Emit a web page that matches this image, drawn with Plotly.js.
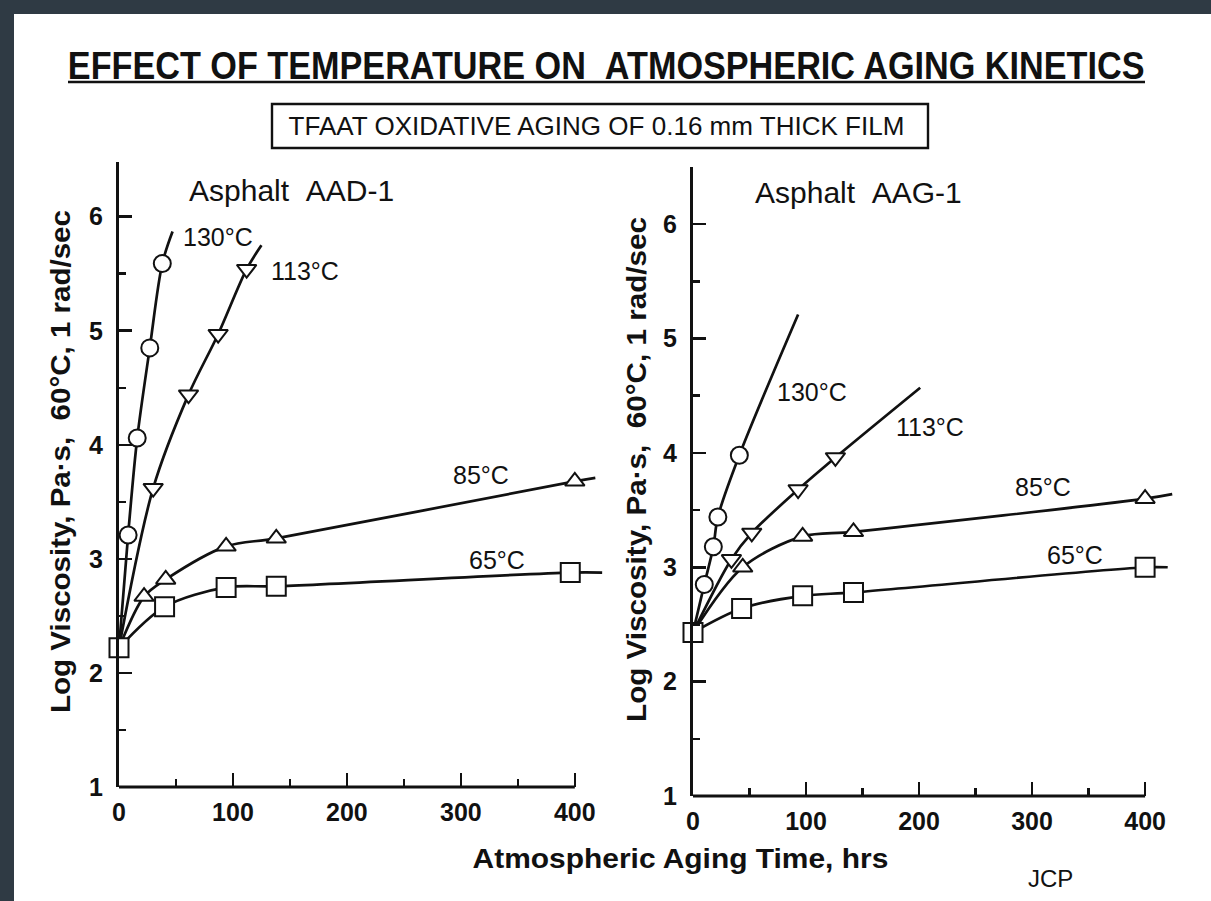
<!DOCTYPE html>
<html>
<head>
<meta charset="utf-8">
<script src="https://cdn.plot.ly/plotly-3.0.1.min.js"></script>
<style>
  html, body { margin: 0; padding: 0; background: #2f3a44; width: 1211px; height: 901px; overflow: hidden; }
  #chart { position: absolute; left: 14px; top: 14px; width: 1197px; height: 887px; background: #ffffff; }
</style>
</head>
<body>
<div id="chart"></div>
<script>
// ---- Asphalt AAD-1 : log viscosity (Pa·s, 60°C, 1 rad/s) vs aging time (hrs)
const aad_t130 = [8, 16, 27, 38];
const aad_v130 = [3.21, 4.06, 4.85, 5.59];
const aad_t113 = [30, 61, 87, 112];
const aad_v113 = [3.62, 4.44, 4.97, 5.54];
const aad_t85  = [22, 41, 94, 138, 400];
const aad_v85  = [2.67, 2.82, 3.11, 3.18, 3.68];
const aad_t65  = [0, 40, 94, 138, 396];
const aad_v65  = [2.22, 2.58, 2.75, 2.76, 2.88];
// fitted-curve end points for AAD-1
const aad_end130 = [47, 5.87];
const aad_end113 = [125, 5.75];
const aad_end85  = [418, 3.71];
const aad_end65  = [424, 2.88];

// ---- Asphalt AAG-1
const aag_t130 = [10, 18, 22, 41];
const aag_v130 = [2.85, 3.18, 3.44, 3.98];
const aag_t113 = [34, 52, 93, 126];
const aag_v113 = [3.07, 3.30, 3.68, 3.96];
const aag_t85  = [44, 97, 142, 400];
const aag_v85  = [3.00, 3.27, 3.31, 3.60];
const aag_t65  = [0, 43, 97, 142, 400];
const aag_v65  = [2.43, 2.64, 2.75, 2.78, 3.00];
const aag_end130 = [93, 5.21];
const aag_end113 = [201, 4.57];
const aag_end85  = [424, 3.64];
const aag_end65  = [420, 3.00];

const temps = ['130°C', '113°C', '85°C', '65°C'];
const xTicks = [0, 100, 200, 300, 400];
const xMinor = [50, 150, 250, 350];
const yTicks = [1, 2, 3, 4, 5, 6];
const yMinor = [1.5, 2.5, 3.5, 4.5, 5.5];

// ---- figure geometry
const W = 1197, H = 887, OX = 14, OY = 14;
const fx = px => (px - OX) / W;
const fy = py => (H - (py - OY)) / H;

const SANS = 'Liberation Sans, Arial, Helvetica, sans-serif';
const INK = '#111111';

const panels = [
  { xa: 'x', ya: 'y',
    t: [aad_t130, aad_t113, aad_t85, aad_t65], v: [aad_v130, aad_v113, aad_v85, aad_v65],
    start: aad_v65[0], ends: [aad_end130, aad_end113, aad_end85, aad_end65] },
  { xa: 'x2', ya: 'y2',
    t: [aag_t130, aag_t113, aag_t85, aag_t65], v: [aag_v130, aag_v113, aag_v85, aag_v65],
    start: aag_v65[0], ends: [aag_end130, aag_end113, aag_end85, aag_end65] }
];
const symbols = ['circle', 'triangle-down', 'triangle-up', 'square'];
const msize = [17, 17, 17, 19];

const traces = [];
panels.forEach(p => {
  // smooth curves from the unaged point through the data to the curve end
  p.t.forEach((tt, i) => {
    const cx = [0], cy = [p.start];
    tt.forEach((x, k) => { if (x > 0) { cx.push(x); cy.push(p.v[i][k]); } });
    cx.push(p.ends[i][0]); cy.push(p.ends[i][1]);
    traces.push({ x: cx, y: cy, xaxis: p.xa, yaxis: p.ya, mode: 'lines',
      line: { color: INK, width: 2.7, shape: 'spline', smoothing: 0.9 },
      hoverinfo: 'skip', showlegend: false });
  });
  p.t.forEach((tt, i) => {
    traces.push({ x: tt, y: p.v[i], xaxis: p.xa, yaxis: p.ya, mode: 'markers', name: temps[i],
      cliponaxis: false,
      marker: { symbol: symbols[i], size: msize[i], color: '#ffffff',
                line: { color: INK, width: 2 } },
      showlegend: false });
  });
});

function xAxis(dom) {
  return { domain: dom, range: [0, 430], tickvals: xTicks, ticktext: xTicks.map(String),
    ticks: 'inside', ticklen: 14, tickwidth: 2.6, tickcolor: INK,
    minor: { tickvals: xMinor, ticks: 'inside', ticklen: 8, tickwidth: 2.6, tickcolor: INK },
    showline: false, showgrid: false, zeroline: false, ticklabelstandoff: 8,
    tickfont: { family: SANS, size: 25, color: INK, weight: 'bold' }, fixedrange: true };
}
function yAxis(dom, top) {
  return { domain: dom, range: [1, top], tickvals: yTicks, ticktext: yTicks.map(String),
    ticks: 'inside', ticklen: 13, tickwidth: 2.6, tickcolor: INK,
    minor: { tickvals: yMinor, ticks: 'inside', ticklen: 7, tickwidth: 2.6, tickcolor: INK },
    showline: true, linewidth: 3, linecolor: INK, showgrid: false, zeroline: false,
    ticklabelstandoff: 8,
    tickfont: { family: SANS, size: 25, color: INK, weight: 'bold' }, fixedrange: true };
}

const xd1 = [fx(119), fx(609)], yd1 = [fy(787), fy(162)];
const xd2 = [fx(693), fx(1179)], yd2 = [fy(796), fy(167)];
const xEnd = (d) => d[0] + (400 / 430) * (d[1] - d[0]);

const yTitle = 'Log Viscosity, Pa·s,\u00a0\u00a060°C, 1 rad/sec';

// fitWidth: horizontal length (px) the condensed lettering occupies
const annotations = [
  { text: 'EFFECT OF TEMPERATURE ON\u00a0\u00a0ATMOSPHERIC AGING KINETICS', x: fx(606), y: fy(66),
    font: { family: SANS, size: 38, color: INK, weight: 'bold' }, fitWidth: 1077 },
  { text: 'TFAAT OXIDATIVE AGING OF 0.16 mm THICK FILM', x: fx(596), y: fy(126),
    font: { family: SANS, size: 26, color: INK }, fitWidth: 616 },
  { text: 'Asphalt\u00a0\u00a0AAD-1', x: fx(291), y: fy(190), font: { family: SANS, size: 30, color: INK } },
  { text: 'Asphalt\u00a0\u00a0AAG-1', x: fx(858), y: fy(192), font: { family: SANS, size: 30, color: INK } },
  { text: yTitle, x: fx(60), y: fy(462), textangle: -90,
    font: { family: SANS, size: 28, color: INK, weight: 'bold' }, fitWidth: 503 },
  { text: yTitle, x: fx(636), y: fy(470), textangle: -90,
    font: { family: SANS, size: 28, color: INK, weight: 'bold' }, fitWidth: 505 },
  { text: 'Atmospheric Aging Time, hrs', x: fx(680), y: fy(858),
    font: { family: SANS, size: 28, color: INK, weight: 'bold' }, fitWidth: 416 },
  { text: 'JCP', x: fx(1050), y: fy(878), font: { family: SANS, size: 24, color: INK } },
  // curve labels (data coordinates)
  { text: temps[0], xref: 'x', yref: 'y', x: 87, y: 5.82 },
  { text: temps[1], xref: 'x', yref: 'y', x: 163, y: 5.52 },
  { text: temps[2], xref: 'x', yref: 'y', x: 318, y: 3.74 },
  { text: temps[3], xref: 'x', yref: 'y', x: 332, y: 2.99 },
  { text: temps[0], xref: 'x2', yref: 'y2', x: 105, y: 4.53 },
  { text: temps[1], xref: 'x2', yref: 'y2', x: 210, y: 4.23 },
  { text: temps[2], xref: 'x2', yref: 'y2', x: 310, y: 3.70 },
  { text: temps[3], xref: 'x2', yref: 'y2', x: 338, y: 3.11 }
].map(a => Object.assign({ xref: 'paper', yref: 'paper', showarrow: false,
  xanchor: 'center', yanchor: 'middle',
  font: { family: SANS, size: 25, color: INK } }, a));

const shapes = [
  // title underline
  { type: 'line', xref: 'paper', yref: 'paper', x0: fx(68), x1: fx(1145), y0: fy(82), y1: fy(82),
    line: { color: INK, width: 2.6 } },
  // subtitle frame
  { type: 'rect', xref: 'paper', yref: 'paper', x0: fx(272), x1: fx(928), y0: fy(104), y1: fy(148),
    line: { color: INK, width: 2.4 } },
  // time axes (end at 400 hrs)
  { type: 'line', xref: 'paper', yref: 'paper', x0: xd1[0], x1: xEnd(xd1), y0: yd1[0], y1: yd1[0],
    line: { color: INK, width: 3 } },
  { type: 'line', xref: 'paper', yref: 'paper', x0: xd2[0], x1: xEnd(xd2), y0: yd2[0], y1: yd2[0],
    line: { color: INK, width: 3 } }
];

const layout = {
  width: W, height: H, margin: { l: 0, r: 0, t: 0, b: 0 },
  paper_bgcolor: '#ffffff', plot_bgcolor: 'rgba(0,0,0,0)',
  showlegend: false,
  xaxis: Object.assign(xAxis(xd1), { anchor: 'y' }),
  yaxis: Object.assign(yAxis(yd1, 6.48), { anchor: 'x' }),
  xaxis2: Object.assign(xAxis(xd2), { anchor: 'y2' }),
  yaxis2: Object.assign(yAxis(yd2, 6.5), { anchor: 'x2' }),
  annotations: annotations.map(a => { const c = Object.assign({}, a); delete c.fitWidth; return c; }),
  shapes: shapes
};

Plotly.newPlot('chart', traces, layout, { displayModeBar: false, staticPlot: true }).then(gd => {
  // condensed lettering: squeeze/stretch selected texts along their baseline
  annotations.forEach((a, i) => {
    if (!a.fitWidth) return;
    const t = gd.querySelector('.annotation[data-index="' + i + '"] text.annotation-text');
    if (!t) return;
    const w = t.getBBox().width;
    if (!w) return;
    t.style.transformBox = 'fill-box';
    t.style.transformOrigin = 'center';
    t.style.transform = 'scaleX(' + (a.fitWidth / w).toFixed(4) + ')';
  });
});
</script>
</body>
</html>
